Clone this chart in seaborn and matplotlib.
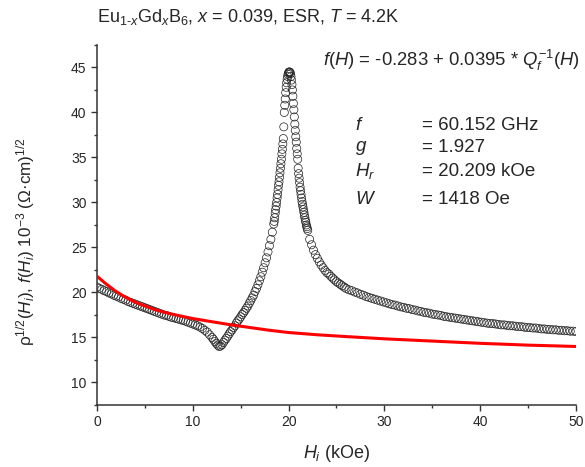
import numpy as np
import pandas as pd
import matplotlib
matplotlib.use('Agg')
import matplotlib.pyplot as plt
from matplotlib.ticker import MultipleLocator
import seaborn as sns

# ESR data: H_i (kOe) vs rho^1/2
h_left = [0.0, 0.25, 0.5, 0.75, 1.0, 1.25, 1.5, 1.75, 2.0, 2.25, 2.5, 2.75, 3.0, 3.25, 3.5, 3.75,
          4.0, 4.25, 4.5, 4.75, 5.0, 5.25, 5.5, 5.75, 6.0, 6.25, 6.5, 6.75, 7.0, 7.25, 7.5, 7.75,
          8.0, 8.25, 8.5, 8.75, 9.0, 9.25, 9.5, 9.75, 10.0, 10.25, 10.5, 10.75, 11.0, 11.25, 11.5,
          11.75, 12.0]
r_left = [20.6, 20.45, 20.35, 20.2, 20.1, 19.95, 19.85, 19.7, 19.6, 19.5, 19.35, 19.25, 19.15, 19.0,
          18.9, 18.8, 18.7, 18.6, 18.5, 18.4, 18.3, 18.2, 18.1, 18.0, 17.9, 17.8, 17.7, 17.6, 17.5,
          17.45, 17.35, 17.25, 17.2, 17.1, 17.05, 16.95, 16.9, 16.8, 16.7, 16.6, 16.5, 16.4, 16.3,
          16.15, 16.0, 15.8, 15.6, 15.3, 15.0]

h_rise = [12.15, 12.3, 12.45, 12.6, 12.75, 12.9, 13.05, 13.2, 13.35, 13.5, 13.65, 13.8, 13.95, 14.1,
          14.25, 14.4, 14.55, 14.7, 14.85, 15.0, 15.15, 15.3, 15.45, 15.6, 15.75, 15.9, 16.05, 16.2,
          16.35, 16.5, 16.65, 16.8, 16.95, 17.1, 17.25, 17.4, 17.55, 17.7, 17.85, 18.0, 18.15, 18.3,
          18.45]
r_rise = [14.8, 14.55, 14.35, 14.15, 14.0, 14.05, 14.2, 14.45, 14.7, 14.9, 15.15, 15.4, 15.65, 15.85,
          16.1, 16.3, 16.6, 16.85, 17.05, 17.3, 17.55, 17.75, 18.0, 18.25, 18.5, 18.8, 19.1, 19.4,
          19.7, 20.1, 20.45, 20.85, 21.3, 21.75, 22.25, 22.75, 23.3, 23.85, 24.5, 25.2, 25.9, 26.7,
          27.6]

h_peak = [18.5, 18.55, 18.6, 18.65, 18.7, 18.75, 18.8, 18.85, 18.9, 18.95, 19.0, 19.05, 19.1, 19.15,
          19.2, 19.25, 19.3, 19.35, 19.4, 19.45, 19.5, 19.55, 19.6, 19.65, 19.7, 19.75, 19.8, 19.85,
          19.9, 19.95, 20.0, 20.05, 20.1, 20.15, 20.2, 20.25, 20.3, 20.35, 20.4, 20.45, 20.5, 20.55,
          20.6, 20.65, 20.7, 20.75, 20.8, 20.85, 20.9, 20.95, 21.0, 21.05, 21.1, 21.15, 21.2, 21.25,
          21.3, 21.35, 21.4, 21.45, 21.5, 21.55, 21.6, 21.65, 21.7, 21.75, 21.8, 21.85, 21.9, 21.95,
          22.0]
r_peak = [27.9, 28.3, 28.8, 29.2, 29.6, 30.0, 30.5, 30.9, 31.4, 31.9, 32.3, 32.8, 33.3, 33.8,
          34.3, 34.8, 35.4, 35.9, 36.5, 37.1, 38.4, 40.0, 40.8, 41.5, 42.2, 42.8, 43.3, 43.7,
          44.0, 44.25, 44.4, 44.5, 44.5, 44.45, 44.3, 44.0, 43.6, 43.1, 42.5, 41.8, 41.0, 40.3,
          39.5, 38.7, 38.0, 37.3, 36.7, 36.0, 35.4, 34.8, 33.8, 33.2, 32.7, 32.2, 31.7, 31.3,
          30.9, 30.5, 30.1, 29.8, 29.5, 29.2, 28.9, 28.6, 28.3, 28.0, 27.8, 27.5, 27.3, 27.1,
          26.9]

h_fall = [22.2, 22.4, 22.6, 22.8, 23.0, 23.2, 23.4, 23.6, 23.8, 24.0, 24.2, 24.4, 24.6, 24.8, 25.0,
          25.2, 25.4, 25.6, 25.8, 26.0]
r_fall = [25.9, 25.3, 24.7, 24.2, 23.8, 23.4, 23.05, 22.75, 22.45, 22.2, 22.05, 21.8, 21.6, 21.4,
          21.2, 21.05, 20.9, 20.75, 20.6, 20.45]

h_tail = [26.3, 26.6, 26.9, 27.2, 27.5, 27.8, 28.1, 28.4, 28.7, 29.0, 29.3, 29.6, 29.9, 30.2, 30.5,
          30.8, 31.1, 31.4, 31.7, 32.0, 32.3, 32.6, 32.9, 33.2, 33.5, 33.8, 34.1, 34.4, 34.7, 35.0,
          35.3, 35.6, 35.9, 36.2, 36.5, 36.8, 37.1, 37.4, 37.7, 38.0, 38.3, 38.6, 38.9, 39.2, 39.5,
          39.8, 40.1, 40.4, 40.7, 41.0, 41.3, 41.6, 41.9, 42.2, 42.5, 42.8, 43.1, 43.4, 43.7, 44.0,
          44.3, 44.6, 44.9, 45.2, 45.5, 45.8, 46.1, 46.4, 46.7, 47.0, 47.3, 47.6, 47.9, 48.2, 48.5,
          48.8, 49.1, 49.4, 49.7, 50.0]
r_tail = [20.3, 20.2, 20.05, 19.95, 19.8, 19.7, 19.55, 19.45, 19.35, 19.25, 19.15, 19.05, 18.95,
          18.85, 18.75, 18.65, 18.6, 18.5, 18.4, 18.35, 18.25, 18.2, 18.1, 18.05, 17.95, 17.9, 17.8,
          17.75, 17.7, 17.6, 17.55, 17.5, 17.45, 17.35, 17.3, 17.25, 17.2, 17.15, 17.1, 17.05, 17.0,
          16.95, 16.9, 16.85, 16.8, 16.75, 16.7, 16.65, 16.6, 16.55, 16.55, 16.5, 16.45, 16.4, 16.4,
          16.35, 16.3, 16.3, 16.25, 16.2, 16.2, 16.15, 16.1, 16.1, 16.05, 16.05, 16.0, 15.95, 15.95,
          15.9, 15.9, 15.85, 15.85, 15.8, 15.8, 15.75, 15.75, 15.7, 15.7, 15.65]

# fit curve f(H)
h_fit = [0, 1, 2, 3, 4, 5, 6, 7, 8, 10, 12, 14, 16, 18, 20, 23, 26, 30, 35, 40, 45, 50]
f_fit = [21.8, 20.9, 20.1, 19.45, 18.9, 18.5, 18.1, 17.8, 17.55, 17.1, 16.75, 16.4, 16.1, 15.8,
         15.55, 15.3, 15.1, 14.85, 14.6, 14.35, 14.15, 14.0]

esr = pd.DataFrame({
    'H': h_left + h_rise + h_peak + h_fall + h_tail,
    'rho': r_left + r_rise + r_peak + r_fall + r_tail,
})
fit = pd.DataFrame({'H': h_fit, 'f': f_fit})

sns.set_style('ticks')
plt.rcParams['font.family'] = ['Liberation Sans', 'DejaVu Sans']
plt.rcParams['mathtext.fontset'] = 'custom'
plt.rcParams['mathtext.rm'] = 'Liberation Sans'
plt.rcParams['mathtext.it'] = 'Liberation Sans:italic'

fig = plt.figure(figsize=(5.85, 4.67), dpi=100)
ax = fig.add_axes([0.1658, 0.1328, 0.8188, 0.7709])

sns.scatterplot(data=esr, x='H', y='rho', ax=ax, marker='o', s=34, color='black',
                edgecolor='#222222', linewidth=0.5, zorder=2)
ax.collections[-1].set_facecolor('none')
sns.lineplot(data=fit, x='H', y='f', ax=ax, color='#ff0000', linewidth=2.2, sort=False,
             errorbar=None, zorder=3)

ax.set_xlim(0, 50)
ax.set_ylim(7.5, 47.5)
ax.xaxis.set_major_locator(MultipleLocator(10))
ax.xaxis.set_minor_locator(MultipleLocator(5))
ax.yaxis.set_major_locator(MultipleLocator(5))
ax.yaxis.set_minor_locator(MultipleLocator(2.5))
ax.set_yticks([10, 15, 20, 25, 30, 35, 40, 45])
ax.tick_params(which='major', direction='out', length=4, width=1, labelsize=10, color='#333333')
ax.tick_params(which='minor', direction='out', length=2.5, width=1, color='#333333')
sns.despine(ax=ax)
for s in ['left', 'bottom']:
    ax.spines[s].set_linewidth(1.1)
    ax.spines[s].set_color('#333333')

ax.set_xlabel(r'$H_i$ (kOe)', fontsize=13, labelpad=10)
ax.set_ylabel(r'ρ$^{1/2}$($H_i$), $f$($H_i$) 10$^{-3}$ (Ω·cm)$^{1/2}$', fontsize=12.3)
ax.yaxis.set_label_coords(-0.125, 0.455)

fig.text(97 / 585, 1 - 17 / 467,
         r'Eu$_{1\text{-}x}$Gd$_x$B$_6$, $x$ = 0.039, ESR, $T$ = 4.2K',
         fontsize=13, va='center', ha='left')
fig.text(580 / 585, 1 - 60 / 467,
         r'$f$($H$) = -0.283 + 0.0395 * $Q_f^{-1}$($H$)',
         fontsize=13.3, va='center', ha='right')

labels = [r'$f$', r'$g$', r'$H_r$', r'$W$']
values = ['= 60.152 GHz', '= 1.927', '= 20.209 kOe', '= 1418 Oe']
rows_y = [125, 148, 171, 199]
for lab, val, yy in zip(labels, values, rows_y):
    fig.text(355 / 585, 1 - yy / 467, lab, fontsize=13.5, va='center', ha='left')
    fig.text(422 / 585, 1 - yy / 467, val, fontsize=13.5, va='center', ha='left')

fig.savefig('out.png', dpi=100)
